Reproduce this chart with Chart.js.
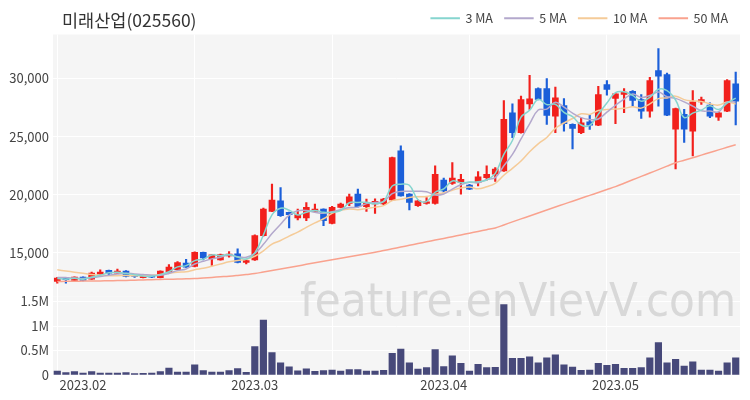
<!DOCTYPE html>
<html>
<head>
<meta charset="utf-8">
<script src="https://cdn.jsdelivr.net/npm/chart.js@4.4.0/dist/chart.umd.min.js"></script>
<style>
  body { margin: 0; background: #fff; }
  #wrap { position: relative; width: 750px; height: 400px; }
  #title { position: absolute; left: 62px; top: 7px; font: 17.5px 'Noto Sans CJK KR', sans-serif; color: #333; }
</style>
</head>
<body>
<div id="wrap">
  <canvas id="myChart" width="750" height="400"></canvas>
  <div id="title">미래산업(025560)</div>
</div>
<script>
// trading days
const dates = [
  '2023.01.27','2023.01.30','2023.01.31',
  '2023.02.01','2023.02.02','2023.02.03','2023.02.06','2023.02.07','2023.02.08','2023.02.09','2023.02.10',
  '2023.02.13','2023.02.14','2023.02.15','2023.02.16','2023.02.17','2023.02.20','2023.02.21','2023.02.22',
  '2023.02.23','2023.02.24','2023.02.27','2023.02.28',
  '2023.03.02','2023.03.03','2023.03.06','2023.03.07','2023.03.08','2023.03.09','2023.03.10','2023.03.13',
  '2023.03.14','2023.03.15','2023.03.16','2023.03.17','2023.03.20','2023.03.21','2023.03.22','2023.03.23',
  '2023.03.24','2023.03.27','2023.03.28','2023.03.29','2023.03.30','2023.03.31',
  '2023.04.03','2023.04.04','2023.04.05','2023.04.06','2023.04.07','2023.04.10','2023.04.11','2023.04.12',
  '2023.04.13','2023.04.14','2023.04.17','2023.04.18','2023.04.19','2023.04.20','2023.04.21','2023.04.24',
  '2023.04.25','2023.04.26','2023.04.27','2023.04.28',
  '2023.05.02','2023.05.03','2023.05.04','2023.05.08','2023.05.09','2023.05.10','2023.05.11','2023.05.12',
  '2023.05.15','2023.05.16','2023.05.17','2023.05.18','2023.05.19','2023.05.22','2023.05.23'
];

const openP = [12550,12870,12640,12920,12750,13180,13500,13270,13440,13080,
  12870,13040,12870,13350,13560,14120,13840,15060,14500,14410,
  14740,14930,14180,14410,16490,18570,19490,18490,18010,18010,
  18570,18780,17540,18920,19260,20060,18970,19210,19210,19550,
  23770,20060,19060,19260,19260,21260,20970,21060,20830,21060,
  21480,21770,22060,27050,25340,27820,29140,29140,26760,27680,
  26050,25340,26280,25990,29480,28280,28620,28900,28190,27190,
  30680,30330,25650,26910,25480,27990,27710,26680,27190,29530];

const highP = [12900,12900,12950,12950,13350,13550,13520,13610,13480,13090,
  13100,13060,13460,14010,14250,14460,15100,15080,14870,14900,
  15120,15350,14400,16550,18850,20920,20630,18520,18780,19340,
  19210,18800,19000,19280,20060,20490,19630,19660,19700,23250,
  24200,20100,19550,19770,22480,21430,22770,21770,20900,22000,
  22480,22340,28110,27820,28480,30270,29200,29990,29250,28280,
  26100,26620,26850,29330,29820,28700,29140,28950,28620,30100,
  32560,30470,27450,27340,28960,28390,27900,27100,29900,30560];

const lowP = [12400,12410,12600,12600,12720,13150,13070,13250,12950,12900,
  12850,12880,12850,13330,13540,13750,13800,14410,13920,14380,
  14630,14150,14050,14350,16450,18550,18150,17150,17840,17780,
  18500,17350,17500,18880,19060,18940,18570,18400,19150,19500,
  19880,18690,19000,19200,19200,20200,20900,20060,20450,20770,
  21260,21140,22000,24910,25300,27340,28150,26050,25340,25480,
  23940,25250,25620,25950,28560,26110,27050,27620,26570,26680,
  27620,26800,22230,24500,23340,27760,26620,26400,27150,26000];

const closeP = [12850,12700,12920,12640,13260,13350,13270,13440,12980,12980,
  13070,12920,13440,13780,14180,13780,15060,14580,14840,14870,
  14900,14180,14350,16490,18780,19550,18200,18290,18290,18920,
  18780,17780,18920,19210,19830,18970,19260,19430,19630,23200,
  19910,19340,19490,19400,21770,20340,21430,21340,20490,21540,
  21770,22200,26480,25340,28190,28250,28190,26820,28330,26110,
  25710,26190,25990,28620,29050,28670,28840,28110,27190,29820,
  30190,26850,27420,25650,27990,28190,26760,27050,29820,28050];

const volume = [80000,50000,70000,40000,70000,40000,40000,40000,50000,30000,
  35000,40000,70000,140000,60000,60000,210000,90000,60000,60000,
  90000,130000,55000,580000,1120000,460000,250000,165000,85000,125000,
  75000,90000,100000,80000,110000,110000,80000,80000,95000,440000,
  530000,250000,120000,150000,520000,170000,390000,240000,80000,220000,
  150000,155000,1440000,340000,340000,370000,250000,350000,410000,210000,
  160000,95000,100000,240000,200000,220000,135000,135000,150000,350000,
  660000,250000,320000,180000,270000,100000,100000,80000,250000,350000];

const ma3 = [12800,12750,12820,12750,12940,13080,13290,13350,13230,13130,
  13010,12990,13140,13380,13800,13910,14340,14470,14830,14760,
  14870,14650,14480,15010,16540,18270,18840,18680,18260,18500,
  18660,18490,18490,18640,19320,19340,19350,19220,19440,20750,
  20910,20820,19580,19410,20220,20500,21180,21040,21090,21120,
  21270,21840,23480,24670,26670,27260,28210,27750,27780,27090,
  26720,26000,25960,26930,27890,28780,28850,28540,28050,28370,
  29070,28950,28150,26640,27020,27280,27650,27330,27880,28310];

const ma5 = [12900,12880,12850,12800,12870,12970,13090,13190,13260,13200,
  13150,13080,13080,13240,13480,13620,14050,14280,14490,14630,
  14850,14670,14630,14960,15740,16670,17470,18260,18620,18650,
  18500,18410,18540,18720,18900,18940,19240,19340,19420,20100,
  20290,20300,20310,20270,19980,20070,20490,20860,21070,21030,
  21310,21470,22500,23470,24800,26090,27290,27360,27960,27540,
  27030,26630,26470,26520,27110,27700,28230,28660,28370,28530,
  28830,28430,28290,27990,27620,27220,27200,27130,27960,27970];

const ma10 = [13550,13450,13350,13250,13150,13080,13050,13050,13060,13040,
  13060,13080,13140,13250,13340,13380,13560,13680,13860,14050,
  14240,14360,14450,14720,15180,15760,16070,16450,16790,17200,
  17580,17940,18400,18670,18780,18720,18830,18940,19070,19500,
  19610,19770,19830,19850,20040,20180,20390,20590,20670,20510,
  20690,20980,21680,22270,22910,23700,24380,24930,25710,26170,
  26560,26960,26910,27240,27330,27370,27430,27560,27450,27820,
  28270,28330,28480,28180,28070,28030,27820,27710,27970,27800];

const ma50 = [12550,12560,12570,12580,12590,12600,12610,12630,12640,12660,
  12680,12700,12720,12740,12760,12780,12800,12850,12900,12950,
  13000,13070,13150,13230,13360,13490,13620,13750,13880,14020,
  14150,14280,14410,14540,14670,14800,14930,15060,15210,15360,
  15510,15660,15810,15960,16110,16250,16400,16550,16700,16850,
  17000,17150,17410,17670,17930,18180,18440,18700,18950,19200,
  19450,19700,19950,20200,20450,20700,20990,21290,21580,21870,
  22160,22460,22750,22970,23190,23410,23640,23860,24080,24300];

const priceTicks = [15000, 20000, 25000, 30000];
const volumeTicks = [0, 500000, 1000000, 1500000];
const volumeTickLabels = ['0', '0.5M', '1M', '1.5M'];

const UP = '#f2201c', DOWN = '#1b5fd9';
const candleColors = closeP.map((c, i) => c >= openP[i] ? UP : DOWN);

// gray panes + watermark
const panes = {
    id: 'panes',
    beforeDraw(chart) {
        const { ctx, chartArea, scales } = chart;
        ctx.save();
        ctx.fillStyle = '#f5f5f5';
        ['y', 'y2'].forEach(id => {
            const s = scales[id];
            ctx.fillRect(chartArea.left, s.top, chartArea.right - chartArea.left, s.bottom - s.top);
        });
        ctx.restore();
    },
    beforeDatasetsDraw(chart) {
        const ctx = chart.ctx;
        ctx.save();
        ctx.font = '46px "DejaVu Sans", sans-serif';
        ctx.fillStyle = 'rgba(205,205,205,0.75)';
        ctx.textBaseline = 'alphabetic';
        ctx.fillText('feature.enVievV.com', 300, 316, 436);
        ctx.restore();
    }
};

const maLine = (label, data, color) => ({
    type: 'line',
    label: label,
    data: data,
    yAxisID: 'y',
    borderColor: color,
    backgroundColor: color,
    borderWidth: 1.5,
    pointRadius: 0,
    tension: 0.4,
    order: 0
});

const tickFont = { size: 13, family: 'Noto Sans CJK KR' };

const ctx = document.getElementById('myChart');
const myChart = new Chart(ctx, {
    data: {
        labels: dates,
        datasets: [
            maLine('3 MA', ma3, '#86d5cf'),
            maLine('5 MA', ma5, '#b3a8cc'),
            maLine('10 MA', ma10, '#f5cb98'),
            maLine('50 MA', ma50, '#f9a28e'),
            {
                type: 'bar', label: 'wick',
                data: lowP.map((l, i) => [l, highP[i]]),
                backgroundColor: candleColors,
                barThickness: 1.5, grouped: false, yAxisID: 'y', order: 3
            },
            {
                type: 'bar', label: 'body',
                data: openP.map((o, i) => [o, closeP[i]]),
                backgroundColor: candleColors,
                barThickness: 6, grouped: false, yAxisID: 'y', order: 2
            },
            {
                type: 'bar', label: 'volume',
                data: volume,
                backgroundColor: '#47497a',
                barThickness: 6.5, grouped: false, yAxisID: 'y2', order: 2
            }
        ]
    },
    options: {
        responsive: false,
        animation: false,
        devicePixelRatio: 1,
        layout: { padding: { left: 0, right: 10, top: 0, bottom: 0 } },
        plugins: {
            tooltip: { enabled: false },
            legend: {
                position: 'top',
                align: 'end',
                labels: {
                    filter: item => item.text.indexOf('MA') > 0,
                    boxWidth: 28,
                    boxHeight: 0.5,
                    padding: 12,
                    color: '#444',
                    font: { size: 12.5, family: 'Noto Sans CJK KR' }
                }
            }
        },
        scales: {
            x: {
                type: 'category',
                offset: true,
                grid: {
                    offset: false,
                    drawTicks: false,
                    color: c => (c.index % 16 === 0 ? '#ffffff' : 'rgba(0,0,0,0)')
                },
                border: { display: false },
                ticks: {
                    autoSkip: false,
                    maxRotation: 0,
                    padding: 2,
                    color: '#444',
                    font: tickFont,
                    callback: function (val, i) {
                        if (i === 0) return '';
                        const cur = dates[i].slice(0, 7), prev = dates[i - 1].slice(0, 7);
                        return cur !== prev ? cur : '';
                    }
                },
                afterFit: s => { s.height = 25; }
            },
            y2: {
                position: 'left',
                stack: 'panes',
                stackWeight: 79,
                min: 0,
                max: 1606000,
                grid: { color: '#ffffff', drawTicks: false },
                border: { display: false },
                afterBuildTicks: s => { s.ticks = volumeTicks.map(v => ({ value: v })); },
                ticks: {
                    autoSkip: false,
                    padding: 4,
                    color: '#444',
                    font: tickFont,
                    callback: v => volumeTickLabels[volumeTicks.indexOf(v)]
                },
                afterFit: s => { s.width = 53; }
            },
            y: {
                position: 'left',
                stack: 'panes',
                stackWeight: 263,
                min: 11270,
                max: 33780,
                grid: { color: '#ffffff', drawTicks: false },
                border: { display: false },
                afterBuildTicks: s => { s.ticks = priceTicks.map(v => ({ value: v })); },
                ticks: {
                    autoSkip: false,
                    padding: 4,
                    color: '#444',
                    font: tickFont,
                    callback: v => v.toLocaleString('en-US')
                },
                afterFit: s => { s.width = 53; }
            }
        }
    },
    plugins: [panes]
});
</script>
</body>
</html>
